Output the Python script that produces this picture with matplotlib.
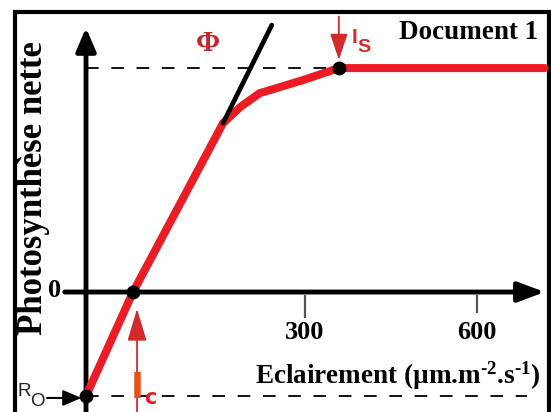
import matplotlib
matplotlib.use("Agg")
import matplotlib.pyplot as plt
from matplotlib.patches import Rectangle

plt.rcParams['font.family'] = ['Liberation Serif', 'DejaVu Serif']
plt.rcParams['mathtext.fontset'] = 'custom'
plt.rcParams['mathtext.rm'] = 'Liberation Serif:bold'
plt.rcParams['mathtext.it'] = 'Liberation Serif:bold'
plt.rcParams['mathtext.bf'] = 'Liberation Serif:bold'

# courbe (eclairement, photosynthese nette) - schematic units
light = [-82, 0, 157, 187, 221, 256, 296, 359, 718]
photo = [-4.64, 0, 7.54, 8.26, 8.88, 9.15, 9.46, 10, 10]
Ro = -4.64
Pmax = 10
Ic = 0
Is = 359
yaxis_at = -82
tangent_L = [157, 242]
tangent_P = [7.54, 11.92]
ticks = [300, 600]
tick_labels = ["300", "600"]

red = '#ec1c24'
dark_red = '#c1272d'

fig = plt.figure(figsize=(5.51, 4.12), dpi=100)
ax = fig.add_axes([0, 0, 1, 1])
ax.set_xlim(-232, 729)
ax.set_ylim(-5.357, 13.04)
ax.axis('off')

# cadre
ax.add_patch(Rectangle((15 / 551, -0.1), (549 - 15) / 551, 1.1 - 12 / 412,
                       transform=ax.transAxes, fill=False, lw=3, ec='black',
                       clip_on=False))

# axes with arrows
ax.annotate('', xy=(yaxis_at, 11.8), xytext=(yaxis_at, -5.6),
            arrowprops=dict(arrowstyle='-|>,head_length=0.7,head_width=0.3',
                            lw=3.5, color='black', shrinkA=0, shrinkB=0,
                            mutation_scale=20))
ax.annotate('', xy=(718, 0), xytext=(-119, 0),
            arrowprops=dict(arrowstyle='-|>,head_length=0.8,head_width=0.3',
                            lw=3.5, color='black', shrinkA=0, shrinkB=0,
                            mutation_scale=20))

# ticks
tick_len = [-1.16, -0.94]
for t, lab, tl in zip(ticks, tick_labels, tick_len):
    ax.plot([t, t], [-0.13, tl], color='#555555', lw=1.6, solid_capstyle='butt')
    ax.text(t, -1.8, lab, ha='center', va='center', fontsize=19,
            fontweight='bold')

# dashed lines
ax.plot([yaxis_at, Is], [Pmax, Pmax], color='black', lw=1.3, dashes=(7, 7))
ax.plot([yaxis_at, 687], [Ro, Ro], color='black', lw=1.3, dashes=(7, 7))

# curve
ax.plot(light, photo, color=red, lw=5.8, solid_capstyle='round',
        solid_joinstyle='round', zorder=4)
ax.plot(tangent_L, tangent_P, color='black', lw=3.4, solid_capstyle='round',
        zorder=5)
ax.plot([yaxis_at, Ic, Is], [Ro, 0, Pmax], 'o', color='black', ms=9, zorder=6)

# labels
ax.text(-174, 4.65, 'Photosynthèse nette', rotation=90, ha='center',
        va='center', fontsize=25, fontweight='bold')
ax.text(-136, 0.09, '0', ha='center', va='center', fontsize=19,
        fontweight='bold')
ax.text(711, -3.75, 'Eclairement (µm.m$^{\u2010 2}$.s$^{\u2010 1}$)', ha='right',
        va='center', fontsize=19.5, fontweight='bold')
ax.text(707, 11.6, 'Document 1', ha='right', va='center', fontsize=19.5,
        fontweight='bold')
ax.text(131, 11.1, 'Φ', ha='center', va='center', fontsize=21,
        fontweight='bold', color=dark_red)

# Is
ax.annotate('', xy=(Is, 10.36), xytext=(Is, 12.3),
            arrowprops=dict(arrowstyle='-|>,head_length=0.9,head_width=0.3',
                            lw=1.3, color='#d42a2a', shrinkA=0, shrinkB=0,
                            mutation_scale=18))
ax.text(387, 11.38, 'I', ha='center', va='center', fontsize=15,
        family='Liberation Sans', fontweight='bold', color='#d42a2a')
ax.text(403, 10.9, 'S', ha='center', va='center', fontsize=14,
        family='Liberation Sans', fontweight='bold', color='#d42a2a')

# Ic
ax.annotate('', xy=(7, -0.75), xytext=(7, -5.6),
            arrowprops=dict(arrowstyle='-|>,head_length=1.0,head_width=0.3',
                            lw=1.3, color='#d42a2a', shrinkA=0, shrinkB=0,
                            mutation_scale=20))
ax.text(7, -4.3, 'I', ha='center', va='center', fontsize=25,
        family='DejaVu Sans', fontweight='bold', color='#e8501a')
ax.text(30, -4.72, 'c', ha='center', va='center', fontsize=15,
        family='DejaVu Sans', fontweight='bold', color=red)

# Ro
ax.text(-190, -4.42, 'R', ha='center', va='center', fontsize=13.5,
        family='Liberation Sans', color='#222222')
ax.text(-167, -4.9, 'O', ha='center', va='center', fontsize=13.5,
        family='Liberation Sans', color='#222222')
ax.annotate('', xy=(-90, -4.73), xytext=(-150, -4.73),
            arrowprops=dict(arrowstyle='-|>,head_length=0.7,head_width=0.3',
                            lw=1.5, color='black', shrinkA=0, shrinkB=0,
                            mutation_scale=16))

fig.savefig('out.png', dpi=100)
